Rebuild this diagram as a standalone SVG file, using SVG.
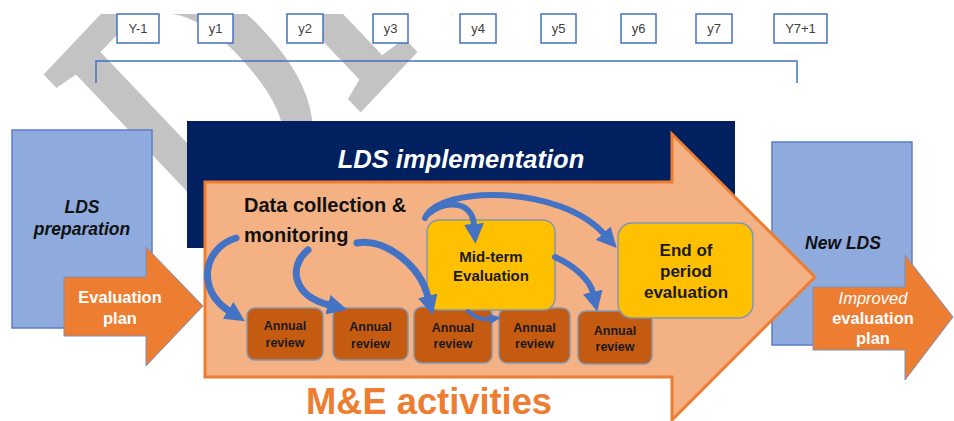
<svg xmlns="http://www.w3.org/2000/svg" width="954" height="421" viewBox="0 0 954 421">
<style>
.yr{fill:#fff;stroke:#4472c4;stroke-width:1.5}
.yt{font-family:"Liberation Sans",Arial,sans-serif;font-size:13px;fill:#404040;text-anchor:middle}
.bluebox{fill:#8faadc;stroke:#5b7fc7;stroke-width:1.5}
.bt{font-family:"Liberation Sans",Arial,sans-serif;font-weight:bold;font-style:italic;fill:#111;text-anchor:middle}
.ann{fill:#c55a11;stroke:#8497b0;stroke-width:1.5}
.at{font-family:"Liberation Sans",Arial,sans-serif;font-weight:bold;font-size:12.5px;fill:#1a1a1a;text-anchor:middle}
.yel{fill:#ffc000;stroke:#8497b0;stroke-width:1.5}
.yt2{font-family:"Liberation Sans",Arial,sans-serif;font-weight:bold;fill:#1a1a1a;text-anchor:middle}
.wt{font-family:"Liberation Sans",Arial,sans-serif;font-weight:bold;fill:#fff;text-anchor:middle}
.conn{fill:none;stroke:#4472c4;stroke-width:7;stroke-linecap:round}
</style>
<defs>
<clipPath id="wmclip"><rect x="0" y="14" width="954" height="407"/></clipPath>
<marker id="ah" markerUnits="userSpaceOnUse" markerWidth="20" markerHeight="20" viewBox="0 0 18 18" refX="1" refY="9" orient="auto">
<path d="M0,0 L18,9 L0,18 z" fill="#4472c4"/>
</marker>
<marker id="ahs" markerUnits="userSpaceOnUse" markerWidth="12" markerHeight="12" viewBox="0 0 18 18" refX="1" refY="9" orient="auto">
<path d="M0,1 L18,9 L0,17 z" fill="#4472c4"/>
</marker>
</defs>
<rect width="954" height="421" fill="#fff"/>
<g id="watermark" clip-path="url(#wmclip)">
<text transform="matrix(1.921,-2.038,2.604,2.741,214.3,260.8)" font-family="Liberation Serif,serif" font-size="100" fill="#c3c3c3" stroke="#c3c3c3" stroke-width="2.5">DRAFT</text>
</g>
<g id="timeline">
<path d="M96,83 V61 H797 V83" fill="none" stroke="#4472c4" stroke-width="1.5"/>
<rect class="yr" x="117" y="14" width="42" height="29"/><text class="yt" x="138" y="33">Y-1</text>
<rect class="yr" x="198" y="14" width="35" height="29"/><text class="yt" x="215.5" y="33">y1</text>
<rect class="yr" x="287" y="14" width="36" height="29"/><text class="yt" x="305" y="33">y2</text>
<rect class="yr" x="373" y="14" width="35" height="29"/><text class="yt" x="390.5" y="33">y3</text>
<rect class="yr" x="460" y="14" width="36" height="29"/><text class="yt" x="478" y="33">y4</text>
<rect class="yr" x="541" y="14" width="35" height="29"/><text class="yt" x="558.5" y="33">y5</text>
<rect class="yr" x="621" y="14" width="35" height="29"/><text class="yt" x="638.5" y="33">y6</text>
<rect class="yr" x="696" y="14" width="36" height="29"/><text class="yt" x="714" y="33">y7</text>
<rect class="yr" x="774" y="14" width="53" height="29"/><text class="yt" x="800.5" y="33">Y7+1</text>
</g>
<g id="lds-preparation">
<rect class="bluebox" x="12" y="130" width="140" height="198"/>
<text class="bt" font-size="17.5" x="82" y="213">LDS</text>
<text class="bt" font-size="17.5" x="82" y="235">preparation</text>
</g>
<g id="evaluation-plan">
<polygon points="64,277 146,277 146,247 203,306 146,366 146,336 64,336" fill="#ed7d31" stroke="#7f8fb5" stroke-width="1"/>
<text class="wt" font-size="16.5" x="120" y="303">Evaluation</text>
<text class="wt" font-size="16.5" x="120" y="324">plan</text>
</g>
<g id="lds-implementation">
<rect x="187" y="121" width="548" height="127" fill="#002060"/>
<text x="461" y="168" font-family="Liberation Sans,Arial,sans-serif" font-weight="bold" font-style="italic" font-size="25.5" fill="#fff" text-anchor="middle">LDS implementation</text>
</g>
<g id="new-lds">
<rect class="bluebox" x="772" y="142" width="140" height="203"/>
<text class="bt" font-size="17.5" x="843" y="249">New LDS</text>
</g>
<g id="me-activities">
<polygon points="205,182 672,182 672,134 815,277 672,420 672,377 205,377" fill="#f4b183" stroke="#ed7d31" stroke-width="3"/>
<text x="429" y="414" font-family="Liberation Sans,Arial,sans-serif" font-weight="bold" font-size="37.5" fill="#ed7d31" text-anchor="middle" textLength="246" lengthAdjust="spacingAndGlyphs">M&amp;E activities</text>
</g>
<g id="improved-evaluation-plan">
<polygon points="813,287 905,287 905,255 953,317 905,380 905,350 813,350" fill="#ed7d31" stroke="#7f8fb5" stroke-width="1"/>
<text x="873" y="304" font-family="Liberation Sans,Arial,sans-serif" font-style="italic" font-size="16.5" fill="#fff" text-anchor="middle">Improved</text>
<text class="wt" font-size="16.5" x="873" y="324">evaluation</text>
<text class="wt" font-size="16.5" x="873" y="344">plan</text>
</g>
<g id="data-collection">
<text x="244" y="212" font-family="Liberation Sans,Arial,sans-serif" font-weight="bold" font-size="20" fill="#111">Data collection &amp;</text>
<text x="244" y="242" font-family="Liberation Sans,Arial,sans-serif" font-weight="bold" font-size="20" fill="#111">monitoring</text>
</g>
<g id="annual-review-1"><rect class="ann" x="247" y="308" width="76" height="52" rx="8"/><text class="at" x="285" y="330">Annual</text><text class="at" x="285" y="347">review</text></g>
<g id="annual-review-2"><rect class="ann" x="333" y="308" width="75" height="52" rx="8"/><text class="at" x="370.5" y="331">Annual</text><text class="at" x="370.5" y="348">review</text></g>
<g id="annual-review-3"><rect class="ann" x="414" y="307" width="78" height="56" rx="8"/><text class="at" x="453" y="332">Annual</text><text class="at" x="453" y="348">review</text></g>
<g id="annual-review-4"><rect class="ann" x="499" y="308" width="71" height="55" rx="8"/><text class="at" x="534.5" y="332">Annual</text><text class="at" x="534.5" y="348">review</text></g>
<g id="annual-review-5"><rect class="ann" x="578" y="311" width="74" height="53" rx="8"/><text class="at" x="615" y="335">Annual</text><text class="at" x="615" y="351">review</text></g>
<g id="mid-term-evaluation"><rect class="yel" x="427" y="220" width="128" height="90" rx="12"/><text class="yt2" font-size="15" x="491" y="262">Mid-term</text><text class="yt2" font-size="15" x="491" y="281">Evaluation</text></g>
<g id="end-of-period-evaluation"><rect class="yel" x="618" y="223" width="135" height="95" rx="14"/><text class="yt2" font-size="17" x="686" y="256">End of</text><text class="yt2" font-size="17" x="686" y="277">period</text><text class="yt2" font-size="17" x="686" y="298">evaluation</text></g>
<g id="connectors">
<path class="conn" d="M236,238 C203,248 196,290 229,311" marker-end="url(#ah)"/>
<path class="conn" d="M308,250 C289,265 291,295 329,305" marker-end="url(#ah)"/>
<path class="conn" d="M357,243 C385,238 420,265 428,297" marker-end="url(#ah)"/>
<path class="conn" style="stroke-width:6" d="M425,218 C440,185 560,185 604,234" marker-end="url(#ah)"/>
<path class="conn" style="stroke-width:6" d="M428,214 C445,200 472,200 474,225" marker-end="url(#ah)"/>
<path class="conn" style="stroke-width:6" d="M555,257 C575,266 590,280 593,293" marker-end="url(#ah)"/>
<path class="conn" style="stroke-width:4" d="M468,311 C475,318 482,320 490,319" marker-end="url(#ahs)"/>
</g>
</svg>
